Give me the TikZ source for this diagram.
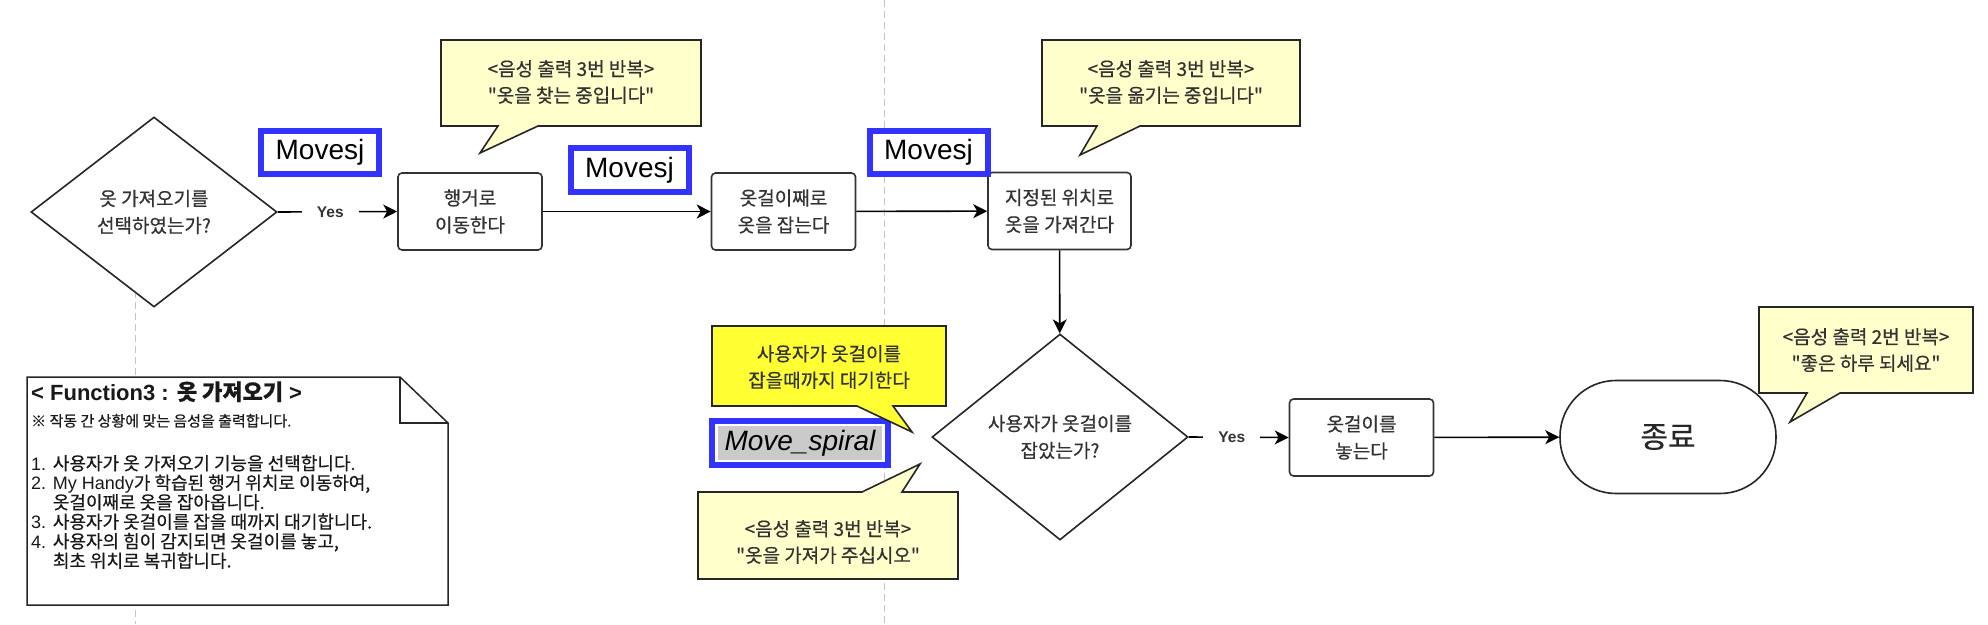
\documentclass[tikz,border=0pt]{standalone}
\usepackage{fontspec}
\setmainfont{Liberation Sans}
\newfontfamily\kr{Noto Sans CJK KR}[FakeBold=0.5]
\newcommand{\kor}[1]{{\kr #1}}
\usetikzlibrary{shapes.geometric,arrows.meta}
\definecolor{notefill}{HTML}{FFFFCC}
\definecolor{hlfill}{HTML}{FFFF33}
\definecolor{bluebd}{HTML}{3333FF}
\definecolor{tx}{HTML}{333333}
\definecolor{sepgray}{HTML}{C4C4C4}
\definecolor{spgray}{HTML}{CACACA}
\begin{document}
\begin{tikzpicture}[x=1pt,y=-1pt,
  sep/.style={draw=sepgray, line width=1pt, dash pattern=on 7pt off 4pt},
  proc/.style={draw=black!80, line width=1.6pt, rounded corners=4pt, fill=white,
    minimum width=144pt, minimum height=77pt, inner sep=0pt, align=center,
    font={\kr\fontsize{19}{27}\selectfont}, text=tx},
  decision/.style={shape=diamond, draw=black!85, line width=1.6pt, fill=white,
    inner sep=0pt, align=center, font={\kr\fontsize{19}{27}\selectfont}, text=tx},
  term/.style={draw=black!85, line width=1.6pt, fill=white, rounded corners=56pt,
    minimum width=216pt, minimum height=113pt, inner sep=0pt,
    font={\kr\fontsize{30}{32}\selectfont}, text=black!85},
  bluebox/.style={draw=bluebd, line width=6pt, fill=white, inner sep=0pt,
    minimum width=118pt, minimum height=43pt, font={\fontsize{28}{30}\selectfont}},
  call/.style={draw=black!85, line width=1.6pt, fill=notefill, line join=miter},
  ctext/.style={align=center, font={\kr\fontsize{19}{26.5}\selectfont}, text=tx, inner sep=0pt},
  arr/.style={draw=black, line width=1.6pt, -{Stealth[length=14pt,width=14pt,inset=4pt]}},
  yeslbl/.style={fill=white, font={\bfseries\fontsize{15.5}{17}\selectfont}, text=tx,
    inner xsep=15pt, inner ysep=3pt},
  notebox/.style={draw=black!85, line width=1.5pt, fill=white, line join=miter},
  nline/.style={anchor=base west, inner sep=0pt, font={\fontsize{18}{19}\selectfont}, text=black!90}
]
\useasboundingbox[fill=white] (0,0) rectangle (1988,624);

% dashed separators
\coordinate (sa1) at (135,280); \coordinate (sa2) at (135,624);
\coordinate (sb1) at (884,0);   \coordinate (sb2) at (884,624);
\draw[sep] (sa1) -- (sa2);
\draw[sep] (sb1) -- (sb2);

% main flow nodes
\node[decision, minimum width=246pt, minimum height=190pt] (d1) at (154,212) {옷 가져오기를\\선택하였는가?};
\node[proc] (b1) at (470,211.5) {행거로\\이동한다};
\node[proc] (b2) at (783.5,211.5) {옷걸이째로\\옷을 잡는다};
\node[proc, minimum width=143pt] (b3) at (1059.5,211) {지정된 위치로\\옷을 가져간다};
\node[decision, minimum width=256pt, minimum height=206pt] (d2) at (1060,437) {사용자가 옷걸이를\\잡았는가?};
\node[proc] (b4) at (1361.5,437.5) {옷걸이를\\놓는다};
\node[term] (t) at (1668,437) {종료};

% Movesj tags
\node[bluebox] (m1) at (320,152.5) {Movesj};
\node[bluebox, minimum height=44pt] (m2) at (629.5,170) {Movesj};
\node[bluebox] (m3) at (928.5,152.5) {Movesj};
\node[bluebox, minimum width=176pt, minimum height=44pt] (ms) at (800,443) {};
\node[fill=spgray, minimum width=164pt, minimum height=34pt, inner sep=0pt,
  font={\itshape\fontsize{28}{30}\selectfont}] (mst) at (ms) {Move\_spiral};

% connectors
\draw[arr] (d1.east) -- node[yeslbl, pos=0.44] (y1) {Yes} (b1.west);
\draw[arr] (b1) -- (b2);
\draw[arr] (b2) -- (b3);
\draw[arr] (b3) -- (d2);
\draw[arr] (d2.east) -- node[yeslbl, pos=0.43] (y2) {Yes} (b4.west);
\draw[arr] (b4) -- (t);

% callouts
\draw[call] (441,40) -- (701,40) -- (701,126) -- (538,126) -- (480,153) -- (498,126) -- (441,126) -- cycle;
\node[ctext] (c1) at (571,82) {<음성 출력 3번 반복>\\"옷을 찾는 중입니다"};

\draw[call] (1042,40) -- (1300,40) -- (1300,126) -- (1140,126) -- (1080,155) -- (1097,126) -- (1042,126) -- cycle;
\node[ctext] (c3) at (1171,82) {<음성 출력 3번 반복>\\"옷을 옮기는 중입니다"};

\draw[call, fill=hlfill] (712,326) -- (946,326) -- (946,406) -- (893,406) -- (912,432) -- (857,406) -- (712,406) -- cycle;
\node[ctext] (c2) at (829,367) {사용자가 옷걸이를\\잡을때까지 대기한다};

\draw[call] (698,492) -- (862,492) -- (920,464) -- (902,492) -- (958,492) -- (958,579) -- (698,579) -- cycle;
\node[ctext] (c4) at (828,542) {<음성 출력 3번 반복>\\"옷을 가져가 주십시오"};

\draw[call] (1759,307) -- (1973,307) -- (1973,393) -- (1840,393) -- (1790,422) -- (1807,393) -- (1759,393) -- cycle;
\node[ctext] (c5) at (1866,350) {<음성 출력 2번 반복>\\"좋은 하루 되세요"};

% note
\draw[notebox] (27,377) -- (400,377) -- (448,423) -- (448,605) -- (27,605) -- cycle;
\draw[notebox, fill=none] (400,377) -- (400,423) -- (448,423);
\node[nline, font={\bfseries\fontsize{22}{23}\selectfont}] (n0) at (31,400) {< Function3 : {\kr\bfseries 옷 가져오기} >};
\node[nline, font={\kr\fontsize{15}{16}\selectfont}] (n1) at (31,426.5) {※ 작동 간 상황에 맞는 음성을 출력합니다.};
\node[nline] (n2) at (31,470) {1. \kor{사용자가 옷 가져오기 기능을 선택합니다.}};
\node[nline] (n3) at (31,489.5) {2. My Handy\kor{가 학습된 행거 위치로 이동하여,}};
\node[nline] (n4) at (31,509) {\phantom{2. }\kor{옷걸이째로 옷을 잡아옵니다.}};
\node[nline] (n5) at (31,528.5) {3. \kor{사용자가 옷걸이를 잡을 때까지 대기합니다.}};
\node[nline] (n6) at (31,548) {4. \kor{사용자의 힘이 감지되면 옷걸이를 놓고,}};
\node[nline] (n7) at (31,567.5) {\phantom{4. }\kor{최초 위치로 복귀합니다.}};
\end{tikzpicture}
\end{document}
